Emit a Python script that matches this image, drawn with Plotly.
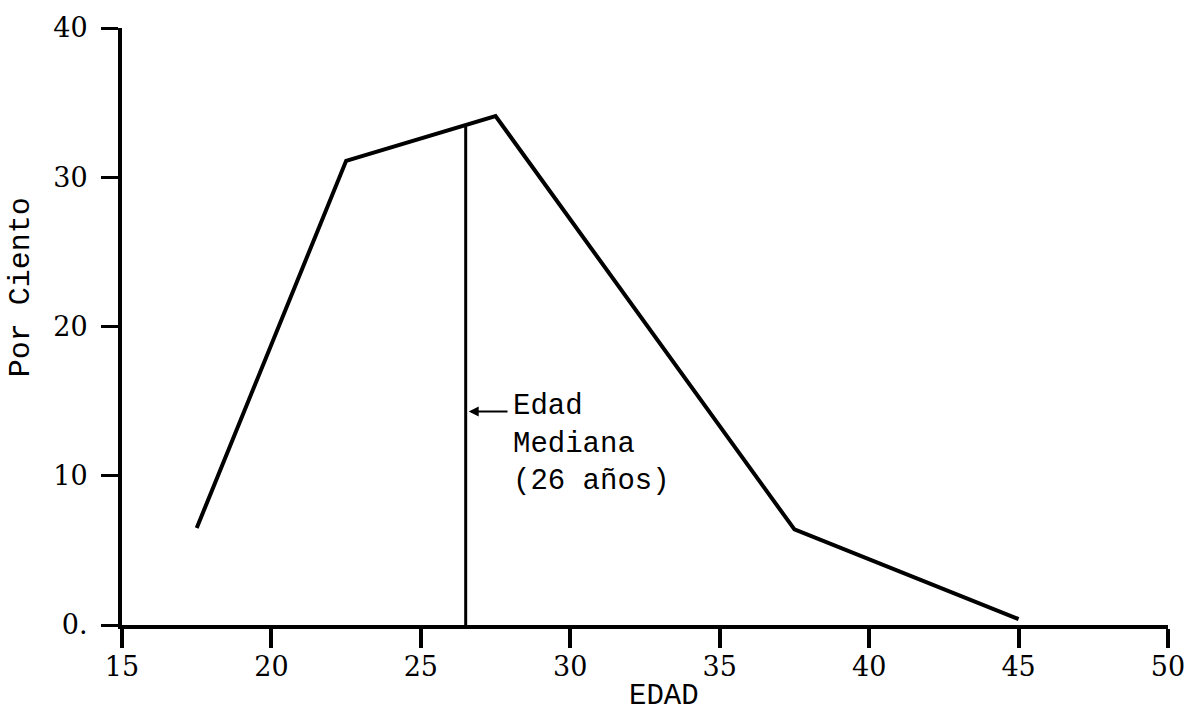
import plotly.graph_objects as go

# edad (punto medio del grupo) y por ciento
edades = [17.5, 22.5, 27.5, 37.5, 45]
por_ciento = [6.5, 31.1, 34.1, 6.4, 0.4]

edad_mediana = 26.5
pct_mediana = 33.4

x_ticks = [15, 20, 25, 30, 35, 40, 45, 50]
y_ticks = [0, 10, 20, 30, 40]
y_ticktext = ["0.", "10", "20", "30", "40"]

fig = go.Figure()

fig.add_trace(go.Scatter(x=edades, y=por_ciento, mode="lines",
                         line=dict(color="black", width=4), showlegend=False))

# linea de la edad mediana
fig.add_trace(go.Scatter(x=[edad_mediana, edad_mediana], y=[0, pct_mediana], mode="lines",
                         line=dict(color="black", width=3), showlegend=False))

mono = "Liberation Mono"
serif = "DejaVu Serif"

fig.add_annotation(x=28.0, y=12.1, xref="x", yref="y", text="Edad<br>Mediana<br>(26 años)",
                   showarrow=False, xanchor="left", yanchor="middle", align="left",
                   font=dict(family=mono, size=29, color="black"))
fig.add_annotation(x=edad_mediana + 0.1, y=14.3, xref="x", yref="y", text="",
                   showarrow=True, axref="x", ayref="y", ax=27.95, ay=14.3,
                   arrowhead=2, arrowsize=1, arrowwidth=2, arrowcolor="black")

fig.add_annotation(x=0.518, y=-0.12, xref="paper", yref="paper", text="EDAD",
                   showarrow=False, xanchor="center", yanchor="middle",
                   font=dict(family=mono, size=29, color="black"))
fig.add_annotation(x=-0.097, y=0.565, xref="paper", yref="paper", text="Por Ciento",
                   showarrow=False, textangle=-90, xanchor="center", yanchor="middle",
                   font=dict(family=mono, size=30, color="black"))

fig.update_xaxes(range=[15, 50], tickvals=x_ticks, showgrid=False, zeroline=False,
                 showline=True, linecolor="black", linewidth=4,
                 ticks="outside", ticklen=19, tickwidth=4, tickcolor="black",
                 ticklabelstandoff=-4,
                 tickfont=dict(family=serif, size=27, color="black"))
fig.update_yaxes(range=[0, 40], tickvals=y_ticks, ticktext=y_ticktext, showgrid=False,
                 zeroline=False, showline=True, linecolor="black", linewidth=4,
                 ticks="outside", ticklen=17, tickwidth=3, tickcolor="black",
                 ticklabelstandoff=8,
                 tickfont=dict(family=serif, size=27, color="black"))

fig.update_layout(width=1197, height=714, plot_bgcolor="white", paper_bgcolor="white",
                  margin=dict(l=122, r=25, t=19, b=89))

fig.write_html("out.html", config={"displayModeBar": False},
               post_script="document.body.style.margin='0';")
